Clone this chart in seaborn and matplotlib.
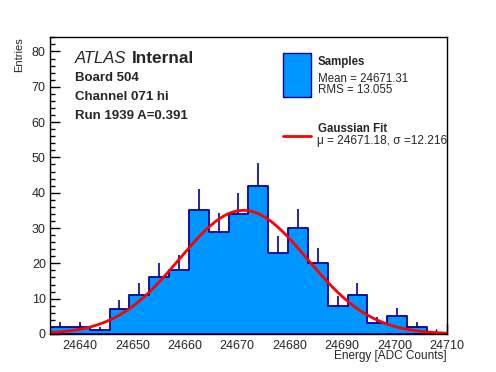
import numpy as np
import pandas as pd
import matplotlib
matplotlib.use("Agg")
import matplotlib.pyplot as plt
import seaborn as sns
from matplotlib.patches import Rectangle
from matplotlib.lines import Line2D
from matplotlib.ticker import MultipleLocator

# histogram binning (ROOT style: 20 bins over the axis range)
x_min = 24634.25
x_max = 24710.0
n_bins = 20

# entries per bin
counts = [2, 2, 1, 7, 11, 16, 18, 35, 29, 34,
          42, 23, 30, 20, 8, 11, 3, 5, 2, 0]

# gaussian fit parameters
fit_const = 35.0
fit_mu = 24671.18
fit_sigma = 12.216

sample_mean = 24671.31
sample_rms = 13.055

info_lines = ["Board 504", "Channel 071 hi", "Run 1939 A=0.391"]

fill_col = "#0096ff"
edge_col = "#00009a"
fit_col = "#ff0000"

sns.set_style("ticks")
plt.rcParams["font.family"] = ["Liberation Sans", "DejaVu Sans"]

edges = np.linspace(x_min, x_max, n_bins + 1)
centers = 0.5 * (edges[:-1] + edges[1:])
counts = np.array(counts, dtype=float)
df = pd.DataFrame({"energy": centers, "entries": counts})

fig = plt.figure(figsize=(4.96, 3.72), dpi=100)
ax = fig.add_axes([0.1008, 0.1022, 0.7998, 0.7975])

sns.histplot(data=df, x="energy", weights="entries", bins=edges.tolist(),
             element="step", fill=True, color=fill_col, edgecolor=edge_col,
             alpha=1, linewidth=1.3, ax=ax)

# upper poisson error bars
has = counts > 0
ax.vlines(centers[has], counts[has], counts[has] + np.sqrt(counts[has]),
          color=edge_col, linewidth=1.2)

xs = np.linspace(x_min, x_max, 400)
ax.plot(xs, fit_const * np.exp(-0.5 * ((xs - fit_mu) / fit_sigma) ** 2),
        color=fit_col, linewidth=2)

ax.set_xlim(x_min, x_max)
ax.set_ylim(0, 84)
ax.xaxis.set_major_locator(MultipleLocator(10))
ax.xaxis.set_minor_locator(MultipleLocator(2))
ax.yaxis.set_major_locator(MultipleLocator(10))
ax.yaxis.set_minor_locator(MultipleLocator(2))
ax.tick_params(which="both", direction="in", top=False, right=False,
               width=1, color="black", labelsize=9)
ax.tick_params(which="major", length=7)
ax.tick_params(which="minor", length=3.5)
ax.tick_params(axis="x", pad=4)
ax.tick_params(axis="y", pad=3)
for s in ax.spines.values():
    s.set_visible(True)
    s.set_color("black")
    s.set_linewidth(1)

ax.set_xlabel("Energy [ADC Counts]", fontsize=8.5, loc="right")
ax.set_ylabel("Entries", fontsize=8, loc="top")
ax.xaxis.set_label_coords(1.0, -0.055)
ax.yaxis.set_label_coords(-0.066, 1.0)

# ATLAS label
t = ax.text(0.063, 0.912, "ATLAS", transform=ax.transAxes, fontsize=12,
            style="italic", va="baseline")
ax.annotate("Internal", xy=(1, 0), xycoords=t, xytext=(4, 0),
            textcoords="offset points", fontsize=12.4, fontweight="bold", va="bottom")
for i, line in enumerate(info_lines):
    ax.text(0.063, 0.854 - i * 0.065, line, transform=ax.transAxes,
            fontsize=9.5, fontweight="bold", va="baseline")

# legend drawn by hand
ax.add_patch(Rectangle((0.588, 0.80), 0.071, 0.146, transform=ax.transAxes,
                       facecolor=fill_col, edgecolor=edge_col, linewidth=1))
ax.add_line(Line2D([0.588, 0.659], [0.667, 0.667], transform=ax.transAxes,
                   color=fit_col, linewidth=2))
ax.text(0.675, 0.907, "Samples", transform=ax.transAxes, fontsize=8.3,
        fontweight="bold", va="baseline")
ax.text(0.675, 0.850, f"Mean = {sample_mean:.2f}", transform=ax.transAxes,
        fontsize=8.3, va="baseline")
ax.text(0.675, 0.811, f"RMS = {sample_rms:.3f}", transform=ax.transAxes,
        fontsize=8.3, va="baseline")
ax.text(0.675, 0.68, "Gaussian Fit", transform=ax.transAxes, fontsize=8.3,
        fontweight="bold", va="baseline")
ax.text(0.673, 0.642, f"\u03bc = {fit_mu:.2f}, \u03c3 ={fit_sigma:.3f}",
        transform=ax.transAxes, fontsize=8.6, va="baseline", clip_on=False)

fig.savefig("out.png", dpi=100)
